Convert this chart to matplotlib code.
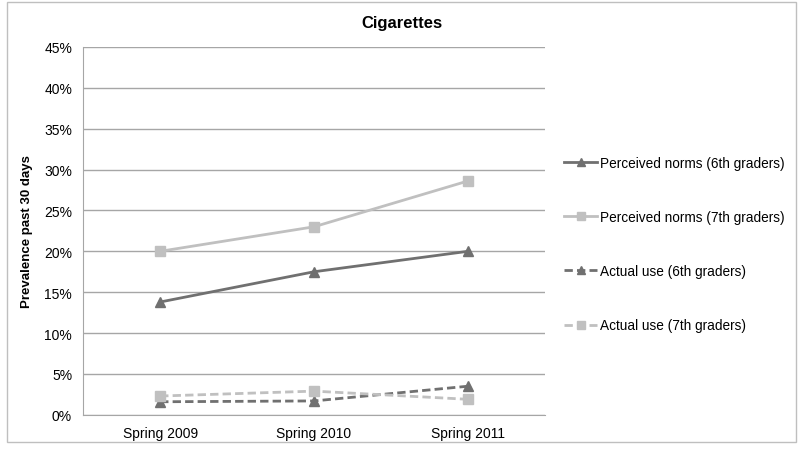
import matplotlib.pyplot as plt
from matplotlib.ticker import PercentFormatter

plt.rcParams['font.family'] = ['Liberation Sans', 'DejaVu Sans']

years = ['Spring 2009', 'Spring 2010', 'Spring 2011']
perceived_6th = [13.8, 17.5, 20.0]
perceived_7th = [20.0, 23.0, 28.6]
actual_6th = [1.6, 1.7, 3.5]
actual_7th = [2.3, 2.9, 1.9]

dark = '#707070'
light = '#c0c0c0'

fig = plt.figure(figsize=(8, 4.52), dpi=100)
ax = fig.add_axes([0.104, 0.080, 0.577, 0.814])
x = range(len(years))

ax.plot(x, perceived_6th, '-^', color=dark, lw=2, ms=7, label='Perceived norms (6th graders)')
ax.plot(x, perceived_7th, '-s', color=light, lw=2, ms=7, label='Perceived norms (7th graders)')
ax.plot(x, actual_6th, '--^', color=dark, lw=2, ms=7, dashes=(3, 1.5), label='Actual use (6th graders)')
ax.plot(x, actual_7th, '--s', color=light, lw=2, ms=7, dashes=(3, 1.5), label='Actual use (7th graders)')

ax.set_xlim(-0.5, 2.5)
ax.set_ylim(0, 45)
ax.set_yticks(range(0, 46, 5))
ax.yaxis.set_major_formatter(PercentFormatter(decimals=0))
ax.set_xticks(list(x))
ax.set_xticklabels(years)
ax.tick_params(length=0, labelsize=10, pad=8)
ax.grid(axis='y', color='#a6a6a6', lw=1)
ax.set_axisbelow(True)
for s in ['top', 'right']:
    ax.spines[s].set_visible(False)
for s in ['left', 'bottom']:
    ax.spines[s].set_color('#a6a6a6')
ax.set_ylabel('Prevalence past 30 days', fontsize=9.5, fontweight='bold', labelpad=8)
fig.text(0.502, 0.948, 'Cigarettes', fontsize=12, fontweight='bold', ha='center', va='center')

fig.legend(loc='upper left', bbox_to_anchor=(0.69, 0.68), frameon=False,
           fontsize=9.8, labelspacing=2.95, handlelength=2.4, handletextpad=0.25,
           markerscale=0.75)

fig.patches.append(plt.Rectangle((0.009, 0.02), 0.986, 0.973, transform=fig.transFigure,
                                 fill=False, edgecolor='#bfbfbf', lw=1))
fig.savefig('out.png', dpi=100)
